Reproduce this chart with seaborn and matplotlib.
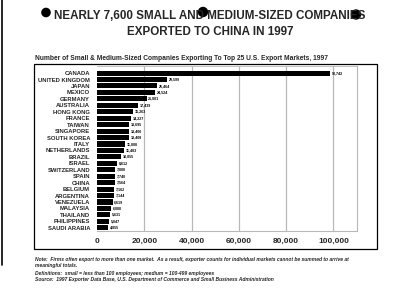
import matplotlib
matplotlib.use("Agg")
import matplotlib.pyplot as plt
import seaborn as sns
import pandas as pd
from matplotlib.patches import Rectangle, Ellipse
from matplotlib.lines import Line2D

countries = ["CANADA", "UNITED KINGDOM", "JAPAN", "MEXICO", "GERMANY", "AUSTRALIA",
             "HONG KONG", "FRANCE", "TAIWAN", "SINGAPORE", "SOUTH KOREA", "ITALY",
             "NETHERLANDS", "BRAZIL", "ISRAEL", "SWITZERLAND", "SPAIN", "CHINA",
             "BELGIUM", "ARGENTINA", "VENEZUELA", "MALAYSIA", "THAILAND",
             "PHILIPPINES", "SAUDI ARABIA"]
exporters = [98742, 29599, 25464, 24524, 21001, 17439, 15263, 14227, 13695, 13406,
             13408, 11808, 11483, 10055, 8612, 7800, 7740, 7564, 7162, 7144,
             6619, 6008, 5631, 5047, 4855]
xticks = [0, 20000, 40000, 60000, 80000, 100000]

df = pd.DataFrame({"country": countries, "exporters": exporters})

sns.set_style("white")
plt.rcParams["font.family"] = ["Liberation Sans", "DejaVu Sans"]

W, H = 400, 303
fig = plt.figure(figsize=(4.0, 3.03), dpi=100)
fig.patch.set_facecolor("white")

def fx(px):
    return px / W

def fy(py):
    return 1 - py / H

# axes in pixel coords: left 97, right 357, top 66, bottom 231
ax = fig.add_axes([fx(97), fy(231), fx(357) - fx(97), (231 - 66) / H])
sns.barplot(data=df, y="country", x="exporters", orient="h", color="black",
            width=0.78, ax=ax, saturation=1, edgecolor="black", linewidth=0)
ax.set_xlim(0, 110000)
ax.set_ylim(24.5, -1.1)
ax.set_xticks(xticks)
ax.set_xticklabels([f"{v:,}" for v in xticks], fontsize=6, fontweight="bold")
ax.tick_params(axis="x", length=0, pad=5)
ax.tick_params(axis="y", length=0, pad=5, labelsize=4.2)
for lab in ax.get_yticklabels():
    lab.set_fontweight("bold")
ax.set_xlabel("")
ax.set_ylabel("")
for v in xticks[1:]:
    ax.axvline(v, color="#b8b8b8", lw=0.9, zorder=0)
ax.spines["left"].set_visible(False)
for s in ["right", "bottom"]:
    ax.spines[s].set_color("#b8b8b8")
    ax.spines[s].set_linewidth(0.8)
ax.spines["top"].set_color("#b8b8b8")
ax.spines["top"].set_linestyle((0, (3, 1)))
ax.spines["top"].set_linewidth(0.6)

for i, v in enumerate(exporters):
    ax.text(v + 700, i, f"{v:,}", va="center", ha="left", fontsize=2.6,
            fontweight="bold", color="black")

# frame
fig.add_artist(Rectangle((fx(34), fy(249)), fx(377) - fx(34), (249 - 64) / H,
                         transform=fig.transFigure, fill=False, ec="black", lw=0.9))

# scan edge line on the left
fig.add_artist(Line2D([fx(2), fx(2)], [fy(0), fy(265)], transform=fig.transFigure,
                      color="black", lw=1.2))

# titles
fig.text(fx(210), fy(16), "NEARLY 7,600 SMALL AND MEDIUM-SIZED COMPANIES",
         ha="center", va="center", fontsize=8.4, fontweight="bold")
fig.text(fx(210), fy(32), "EXPORTED TO CHINA IN 1997",
         ha="center", va="center", fontsize=8.4, fontweight="bold")
fig.text(fx(35), fy(58), "Number of Small & Medium-Sized Companies Exporting To Top 25 U.S. Export Markets, 1997",
         ha="left", va="center", fontsize=4.75, fontweight="bold")

notes = [
    "Note:  Firms often export to more than one market.  As a result, exporter counts for individual markets cannot be summed to arrive at",
    "meaningful totals.",
    "Definitions:  small = less than 100 employees; medium = 100-499 employees",
    "Source:  1997 Exporter Data Base, U.S. Department of Commerce and Small Business Administration",
]
for t, y in zip(notes, [260, 266, 273, 279]):
    fig.text(fx(35), fy(y), t, ha="left", va="center", fontsize=3.6,
             fontweight="bold", style="italic")

# hole-punch blobs of the scan
for (cx, cy, r) in [(46, 12.5, 4.8), (203, 12, 5.2), (356, 14.5, 5.2)]:
    fig.add_artist(Ellipse((fx(cx), fy(cy)), 2 * r / W, 2 * r / H,
                           transform=fig.transFigure, fc="black", ec="none"))

fig.savefig("out.png", dpi=100, facecolor="white")
